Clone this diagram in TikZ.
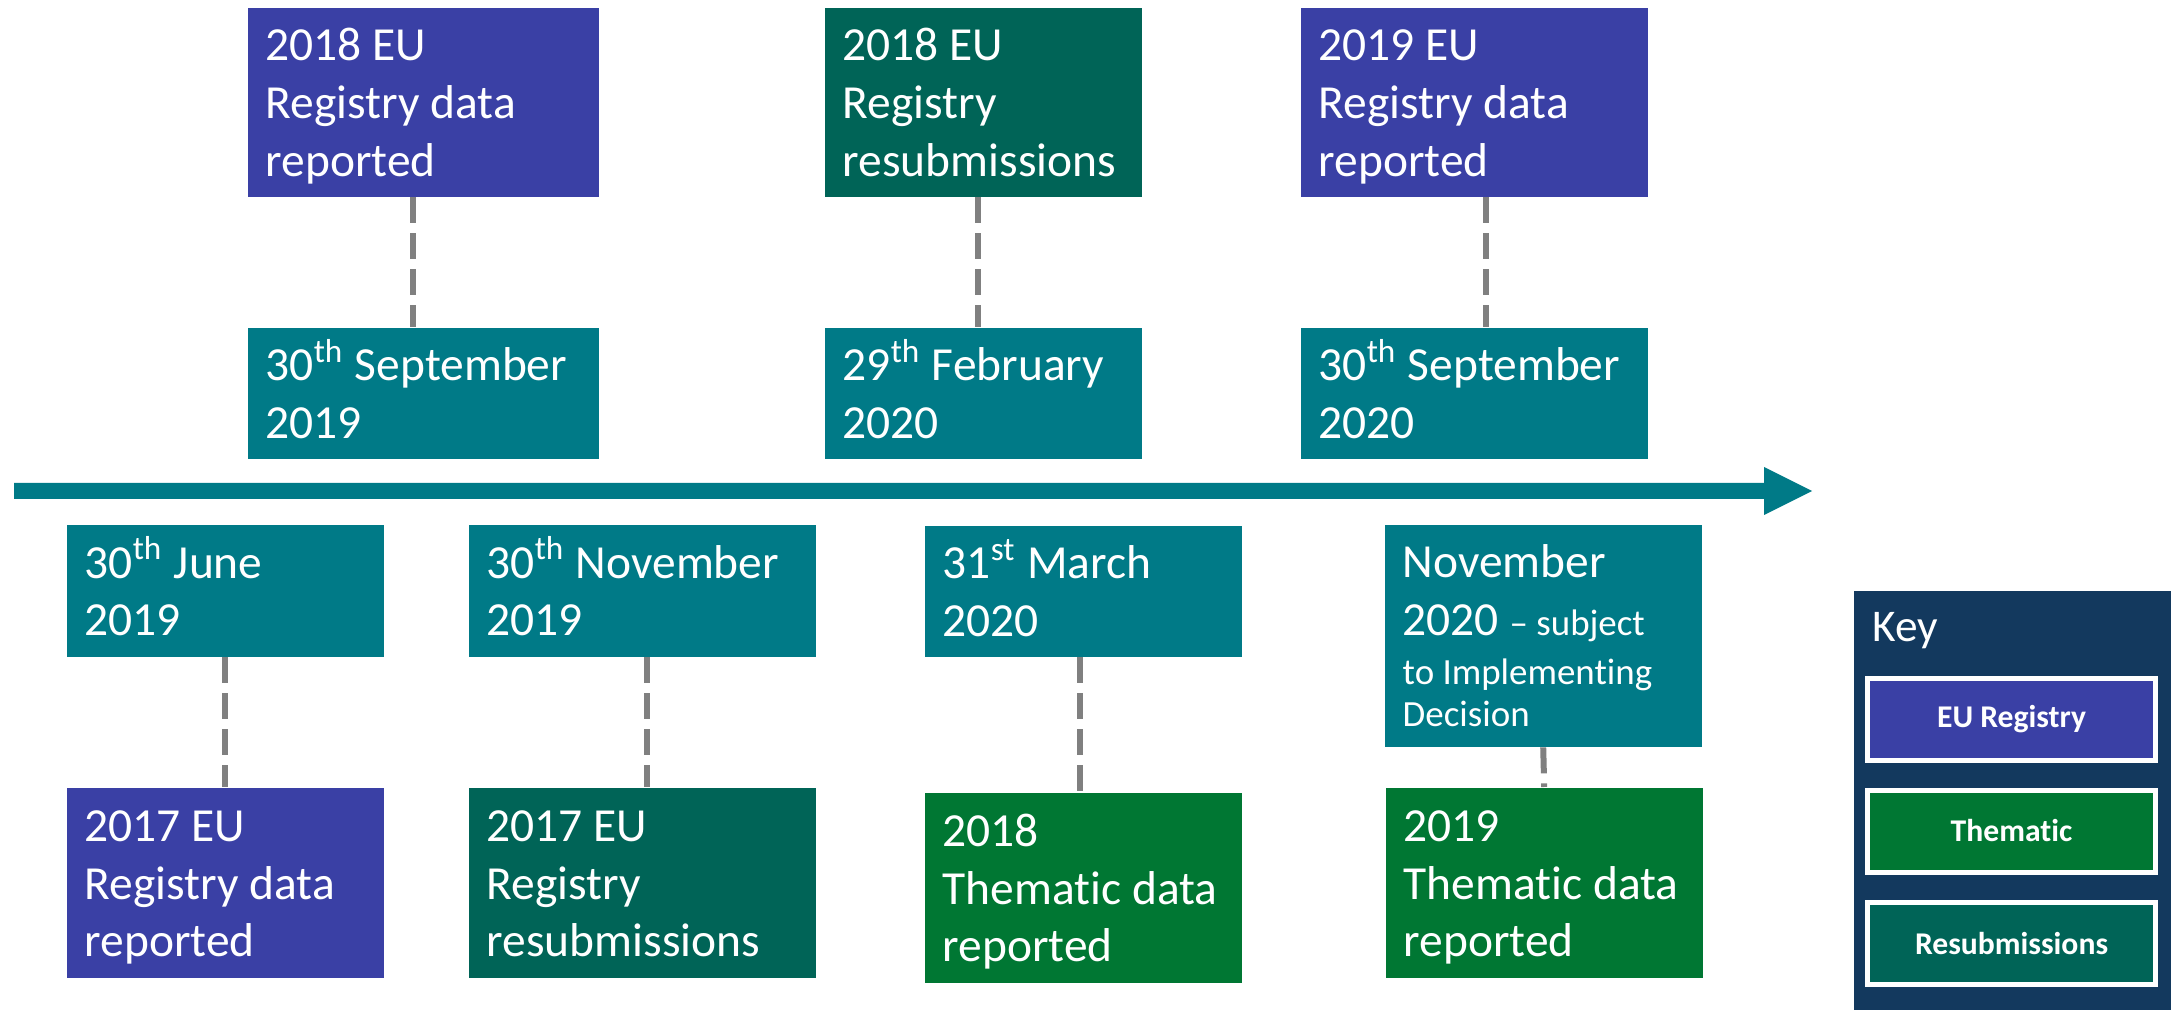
\documentclass[tikz,border=0pt]{standalone}
\usepackage{fontspec}
\setmainfont{Carlito}[Ligatures=NoCommon]
\usepackage{xcolor}
\definecolor{eublue}{RGB}{58,64,165}
\definecolor{dateteal}{RGB}{0,122,135}
\definecolor{resgreen}{RGB}{0,100,87}
\definecolor{thmgreen}{RGB}{0,119,51}
\definecolor{keyblue}{RGB}{19,57,94}
\definecolor{linkgrey}{RGB}{128,128,128}
\newlength\pxu
\setlength\pxu{0.01cm}
\newcommand\mainsize{\fontsize{13.5pt}{16.4pt}\selectfont}
\newcommand\smallsize{\fontsize{10.5pt}{13.9pt}\selectfont}
\newcommand\topstrut{\rule{0pt}{12.9pt}}
\newcommand\botstrut{\ifvmode\else\rule[-3.6pt]{0pt}{3.6pt}\fi}
\tikzset{
  tbox/.style={anchor=north west, inner xsep=18\pxu, inner ysep=0pt, align=flush left,
    text=white, font=\mainsize, execute at begin node=\topstrut,
    execute at end node=\botstrut},
  regbox/.style={tbox, fill=eublue},
  resbox/.style={tbox, fill=resgreen},
  thmbox/.style={tbox, fill=thmgreen},
  datebox/.style={tbox, fill=dateteal},
  link/.style={draw=linkgrey, line width=6\pxu, dash pattern=on 26\pxu off 10\pxu},
  keyitem/.style={draw=white, line width=5\pxu, minimum width=288\pxu,
    minimum height=82\pxu, text=white, font=\bfseries\fontsize{9pt}{11pt}\selectfont}
}

\begin{document}
\begin{tikzpicture}[x=0.01cm, y=-0.01cm]
\useasboundingbox (0,0) rectangle (2179,1010);
% time line
\fill [dateteal] (14,483) -- ++(1750,0) -- ++(0,-16) -- ++(48,24) -- ++(-48,24) -- ++(0,-16) -- ++(-1750,0) -- cycle;

% above the line
\node [regbox, text width=315\pxu, minimum height=189\pxu] (evA) at (247,7) {2018 EU\\Registry data\\reported};
\node [datebox, text width=315\pxu, minimum height=131\pxu] (dtA) at (247,327) {30\textsuperscript{th} September\\2019};
\node [resbox, text width=281\pxu, minimum height=189\pxu] (evB) at (824,7) {2018 EU\\Registry\\resubmissions};
\node [datebox, text width=281\pxu, minimum height=131\pxu] (dtB) at (824,327) {29\textsuperscript{th} February\\2020};
\node [regbox, text width=311\pxu, minimum height=189\pxu] (evC) at (1300,7) {2019 EU\\Registry data\\reported};
\node [datebox, text width=311\pxu, minimum height=131\pxu] (dtC) at (1300,327) {30\textsuperscript{th} September\\2020};

% below the line
\node [datebox, text width=281\pxu, minimum height=132\pxu] (dtD) at (66,524) {30\textsuperscript{th} June\\2019};
\node [regbox, text width=281\pxu, minimum height=190\pxu] (evD) at (66,787) {2017 EU\\Registry data\\reported};
\node [datebox, text width=311\pxu, minimum height=132\pxu] (dtE) at (468,524) {30\textsuperscript{th} November\\2019};
\node [resbox, text width=311\pxu, minimum height=190\pxu] (evE) at (468,787) {2017 EU\\Registry\\resubmissions};
\node [datebox, text width=281\pxu, minimum height=131\pxu] (dtF) at (924,525) {31\textsuperscript{st} March\\2020};
\node [thmbox, text width=281\pxu, minimum height=190\pxu] (evF) at (924,792) {2018\\Thematic data\\reported};
\node [datebox, text width=281\pxu, minimum height=222\pxu] (dtG) at (1384,524) {November\\2020 {\smallsize -- subject}\\\smallsize to Implementing\\\fontsize{10.5pt}{12pt}\selectfont Decision\botstrut\par};
\node [thmbox, text width=281\pxu, minimum height=190\pxu] (evG) at (1385,787) {2019\\Thematic data\\reported};

% dashed links
\draw [link] ([xshift=-10\pxu]evA.south) -- ([xshift=-10\pxu]dtA.north);
\draw [link] ([xshift=-5\pxu]evB.south) -- ([xshift=-5\pxu]dtB.north);
\draw [link] ([xshift=12\pxu]evC.south) -- ([xshift=12\pxu]dtC.north);
\draw [link] (dtD.south) -- (evD.north);
\draw [link] ([xshift=5\pxu]dtE.south) -- ([xshift=5\pxu]evE.north);
\draw [link] ([xshift=-3\pxu]dtF.south) -- ([xshift=-3\pxu]evF.north);
\draw [link] (dtG.south) -- (evG.north);

% key
\node [fill=keyblue, anchor=north west, inner sep=0pt, minimum width=317\pxu, minimum height=420\pxu] (key) at (1853,590) {};
\node [anchor=base west, inner sep=0pt, text=white, font=\fontsize{12.9pt}{15pt}\selectfont] (keytitle) at (1872,642) {Key};
\node [keyitem, fill=eublue] (keyreg) at (2011.5,719.5) {EU Registry};
\node [keyitem, fill=thmgreen] (keythm) at (2011.5,831) {Thematic};
\node [keyitem, fill=resgreen] (keyres) at (2011.5,943.5) {Resubmissions};
\end{tikzpicture}
\end{document}
